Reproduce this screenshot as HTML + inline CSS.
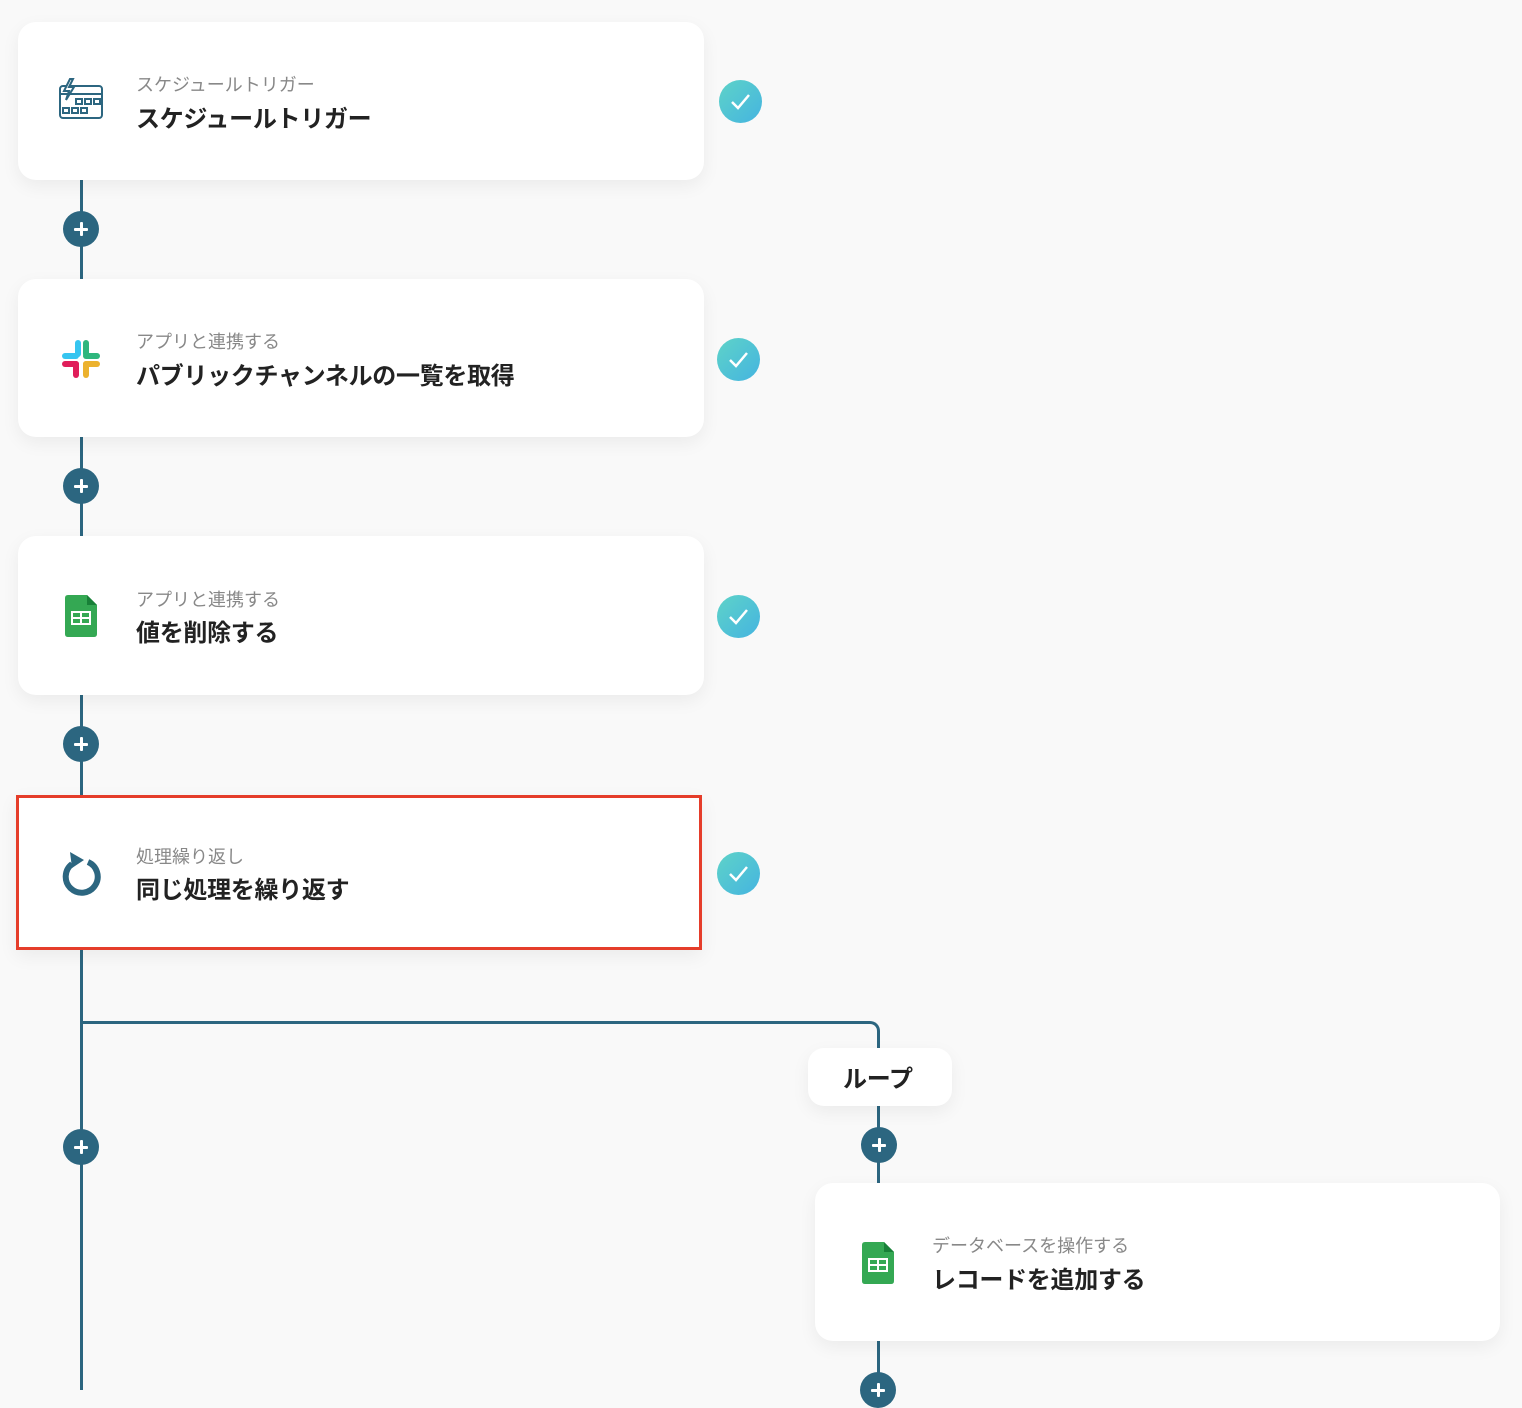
<!DOCTYPE html>
<html><head><meta charset="utf-8"><style>
*{margin:0;padding:0;box-sizing:border-box}
body{width:1522px;height:1408px;background:#f9f9f9;position:relative;overflow:hidden;font-family:"Liberation Sans","Noto Sans CJK JP",sans-serif}
.card{position:absolute;background:#fff;border-radius:18px;box-shadow:0 6px 18px rgba(0,0,0,0.06)}
.sub{position:absolute;font-size:18px;color:#888;white-space:nowrap}
.title{position:absolute;font-size:24px;font-weight:bold;color:#222;white-space:nowrap;letter-spacing:-0.3px}
.check{position:absolute;width:43px;height:43px;border-radius:50%;background:linear-gradient(135deg,#5ed3c8,#45b4e0)}
.check svg{position:absolute;left:0;top:0}
.plus{position:absolute;width:36px;height:36px;border-radius:50%;background:#2c6680}
.plus:before{content:"";position:absolute;left:11px;top:16.5px;width:14px;height:3px;background:#fff;border-radius:1px}
.plus:after{content:"";position:absolute;left:16.5px;top:11px;width:3px;height:14px;background:#fff;border-radius:1px}
.vl{position:absolute;width:3px;background:#2c6680}
.ic{position:absolute}
</style></head><body>

<div class="vl" style="left:80px;top:178px;height:1212px"></div>
<div style="position:absolute;left:81px;top:1021px;width:799px;height:30px;border-top:3px solid #2c6680;border-right:3px solid #2c6680;border-top-right-radius:10px"></div>
<div class="vl" style="left:877px;top:1100px;height:90px"></div>
<div class="vl" style="left:877px;top:1335px;height:60px"></div>

<!-- card 1 -->
<div class="card" style="left:18px;top:22px;width:686px;height:158px"></div>
<svg class="ic" style="left:58px;top:78px" width="46" height="44" viewBox="0 0 46 44" fill="none" stroke="#2c6680" stroke-width="2">
<rect x="2" y="8" width="42" height="32" rx="3"/><line x1="2" y1="16" x2="44" y2="16"/>
<rect x="18" y="21" width="6" height="5"/><rect x="27" y="21" width="6" height="5"/><rect x="36" y="21" width="6" height="5"/>
<rect x="5" y="30" width="6" height="5"/><rect x="14" y="30" width="6" height="5"/><rect x="23" y="30" width="6" height="5"/>
<path d="M12 1 L6 13 H11 L8 22 L16 9 H11 L15 1 Z" fill="#fff"/></svg>
<div class="sub" style="left:136px;top:71px">スケジュールトリガー</div>
<div class="title" style="left:136px;top:99px">スケジュールトリガー</div>
<div class="check" style="left:719px;top:80px"><svg width="43" height="43"><path d="M13 22 L19 28 L30 15" stroke="#fff" stroke-width="2.5" fill="none"/></svg></div>
<div class="plus" style="left:63px;top:211px"></div>

<!-- card 2 -->
<div class="card" style="left:18px;top:279px;width:686px;height:158px"></div>
<svg class="ic" style="left:60px;top:338px" width="42" height="42" viewBox="0 0 42 42">
<rect x="15" y="2" width="6" height="17" rx="3" fill="#36c5f0"/><rect x="2" y="15" width="17" height="6" rx="3" fill="#36c5f0"/>
<rect x="23" y="2" width="6" height="17" rx="3" fill="#2eb67d"/><rect x="23" y="15" width="17" height="6" rx="3" fill="#2eb67d"/>
<rect x="2" y="23" width="17" height="6" rx="3" fill="#e01e5a"/><rect x="13" y="23" width="6" height="17" rx="3" fill="#e01e5a"/>
<rect x="23" y="23" width="17" height="6" rx="3" fill="#ecb22e"/><rect x="23" y="23" width="6" height="17" rx="3" fill="#ecb22e"/></svg>
<div class="sub" style="left:136px;top:328px">アプリと連携する</div>
<div class="title" style="left:136px;top:356px">パブリックチャンネルの一覧を取得</div>
<div class="check" style="left:717px;top:338px"><svg width="43" height="43"><path d="M13 22 L19 28 L30 15" stroke="#fff" stroke-width="2.5" fill="none"/></svg></div>
<div class="plus" style="left:63px;top:468px"></div>

<!-- card 3 -->
<div class="card" style="left:18px;top:536px;width:686px;height:159px"></div>
<svg class="ic" style="left:65px;top:595px" width="32" height="42" viewBox="0 0 32 42">
<path d="M3 0 H22 L32 10 V39 Q32 42 29 42 H3 Q0 42 0 39 V3 Q0 0 3 0Z" fill="#34a853"/><path d="M22 0 L32 10 H22Z" fill="#188038"/>
<rect x="7" y="17" width="18" height="12" fill="none" stroke="#fff" stroke-width="2"/><line x1="16" y1="17" x2="16" y2="29" stroke="#fff" stroke-width="2"/><line x1="7" y1="23" x2="25" y2="23" stroke="#fff" stroke-width="2"/></svg>
<div class="sub" style="left:136px;top:586px">アプリと連携する</div>
<div class="title" style="left:136px;top:613px">値を削除する</div>
<div class="check" style="left:717px;top:595px"><svg width="43" height="43"><path d="M13 22 L19 28 L30 15" stroke="#fff" stroke-width="2.5" fill="none"/></svg></div>
<div class="plus" style="left:63px;top:726px"></div>

<!-- card 4 -->
<div style="position:absolute;left:16px;top:795px;width:686px;height:155px;background:#fff;border:3px solid #e53d2a;box-shadow:0 6px 18px rgba(0,0,0,0.06)"></div>
<svg class="ic" style="left:58px;top:850px" width="46" height="50" viewBox="0 0 46 50">
<path d="M14 14 A16 16 0 1 0 30 12" fill="none" stroke="#2c6680" stroke-width="6"/><path d="M12 2 L14 18 L26 10Z" fill="#2c6680"/></svg>
<div class="sub" style="left:136px;top:843px">処理繰り返し</div>
<div class="title" style="left:136px;top:870px">同じ処理を繰り返す</div>
<div class="check" style="left:717px;top:852px"><svg width="43" height="43"><path d="M13 22 L19 28 L30 15" stroke="#fff" stroke-width="2.5" fill="none"/></svg></div>
<div class="plus" style="left:63px;top:1129px"></div>

<!-- loop -->
<div class="card" style="left:808px;top:1048px;width:144px;height:58px;border-radius:16px"></div>
<div class="title" style="left:843px;top:1059px">ループ</div>
<div class="plus" style="left:861px;top:1127px"></div>

<!-- card 5 -->
<div class="card" style="left:815px;top:1183px;width:685px;height:158px"></div>
<svg class="ic" style="left:862px;top:1242px" width="32" height="42" viewBox="0 0 32 42">
<path d="M3 0 H22 L32 10 V39 Q32 42 29 42 H3 Q0 42 0 39 V3 Q0 0 3 0Z" fill="#34a853"/><path d="M22 0 L32 10 H22Z" fill="#188038"/>
<rect x="7" y="17" width="18" height="12" fill="none" stroke="#fff" stroke-width="2"/><line x1="16" y1="17" x2="16" y2="29" stroke="#fff" stroke-width="2"/><line x1="7" y1="23" x2="25" y2="23" stroke="#fff" stroke-width="2"/></svg>
<div class="sub" style="left:932px;top:1232px">データベースを操作する</div>
<div class="title" style="left:932px;top:1260px">レコードを追加する</div>
<div class="plus" style="left:860px;top:1372px"></div>
</body></html>
